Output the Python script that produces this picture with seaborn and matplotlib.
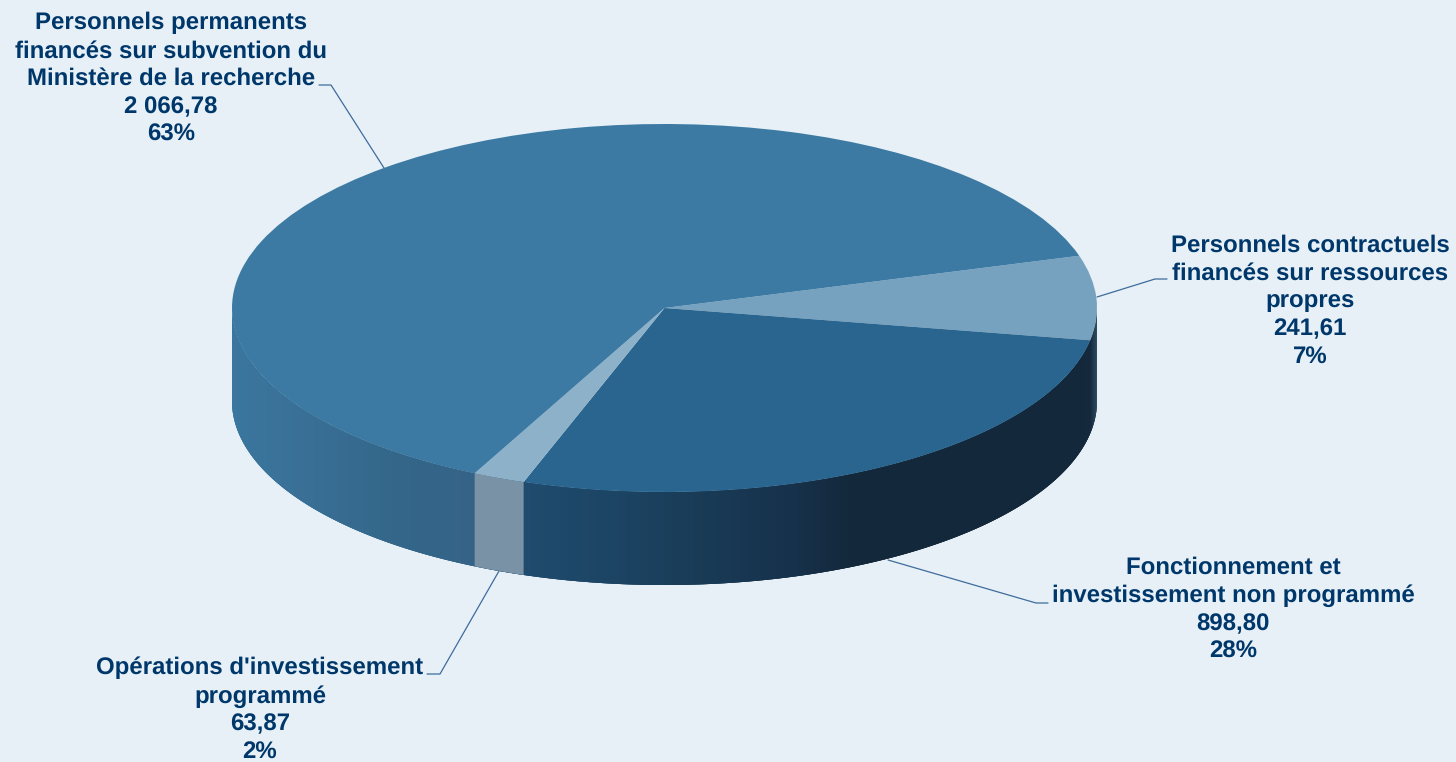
import numpy as np
import seaborn as sns
import matplotlib.pyplot as plt
from matplotlib.colors import to_rgb

# Values
categories = ["Personnels contractuels\nfinancés sur ressources\npropres",
              "Fonctionnement et\ninvestissement non programmé",
              "Opérations d'investissement\nprogrammé",
              "Personnels permanents\nfinancés sur subvention du\nMinistère de la recherche"]
values = [241.61, 898.80, 63.87, 2066.78]
value_labels = ["241,61", "898,80", "63,87", "2 066,78"]
pct_labels = ["7%", "28%", "2%", "63%"]

top_colors = ["#76A2BF", "#29658F", "#8DB1C8", "#3C7AA3"]
bg = "#E6F0F6"
text_color = "#00376B"
line_color = "#3F6C9C"

W, H = 1456, 762
cx, cy, rx, ry, depth = 664.5, 308, 432.5, 184, 93
start = 16.5


def px(x, y):
    # pixel position -> axes data
    return (x - cx) / rx, (cy - y) / ry


sns.set_theme(style="white")
plt.rcParams["font.family"] = ["Liberation Sans", "DejaVu Sans"]
plt.rcParams["text.hinting"] = "none"

fig = plt.figure(figsize=(W / 100, H / 100), dpi=100, facecolor=bg)
ax = fig.add_axes([0, 0, 1, 1], facecolor=bg)

# side wall, shaded left to right along the rim
stop_x = [232, 300, 400, 473, 524, 640, 700, 800, 850, 1080, 1090, 1097]
stop_c = ["#3A769E", "#3A7097", "#336688", "#356387", "#1F4B6E", "#1B4260",
          "#193B56", "#16304A", "#13283A", "#13283A", "#14293B", "#2F4C60"]
stop_rgb = np.array([to_rgb(c) for c in stop_c])

edges = start - np.cumsum(values) / np.sum(values) * 360
small_hi, small_lo = edges[1], edges[2]
d = depth / ry


def wall(a0, a1, col):
    t = np.radians(np.linspace(a0, a1, 30))
    xs, ys = np.cos(t), np.sin(t)
    ax.fill(np.r_[xs, xs[::-1]], np.r_[ys, ys[::-1] - d], color=col, lw=0, zorder=1)


# strips overlap the next one so no seams show
for a in np.arange(-180, 0, 1.0):
    mid = cx + rx * np.cos(np.radians(a + 0.5))
    col = [np.interp(mid, stop_x, stop_rgb[:, i]) for i in range(3)]
    wall(a, min(a + 3, 0), col)
wall(small_lo, small_hi, "#7A92A6")

# top of the pie
ax.pie(values, colors=top_colors, startangle=start, counterclock=False,
       radius=1, wedgeprops={"linewidth": 0, "zorder": 2})
ax.set_aspect("auto")
ax.set_xlim(-cx / rx, (W - cx) / rx)
ax.set_ylim((cy - H) / ry, cy / ry)
ax.axis("off")

# leader lines
leaders = [[(1097, 297), (1155, 279), (1167, 279)],
           [(888, 560), (1036, 603), (1048, 603)],
           [(499, 571), (440, 674), (427, 674)],
           [(384, 168), (331, 85), (319, 85)]]
for pts in leaders:
    xy = np.array([px(*p) for p in pts])
    ax.plot(xy[:, 0], xy[:, 1], color=line_color, lw=0.9, zorder=3)

# labels
label_pos = [(1310, 301), (1233, 610), (260, 710), (171, 79)]
for cat, val, pct, pos in zip(categories, value_labels, pct_labels, label_pos):
    x, y = px(*pos)
    ax.text(x, y, f"{cat}\n{val}\n{pct}", ha="center", va="center",
            multialignment="center", fontsize=17.3, fontweight="bold",
            color=text_color, linespacing=1.315, zorder=4)

fig.savefig("out.png", dpi=100, facecolor=bg)
